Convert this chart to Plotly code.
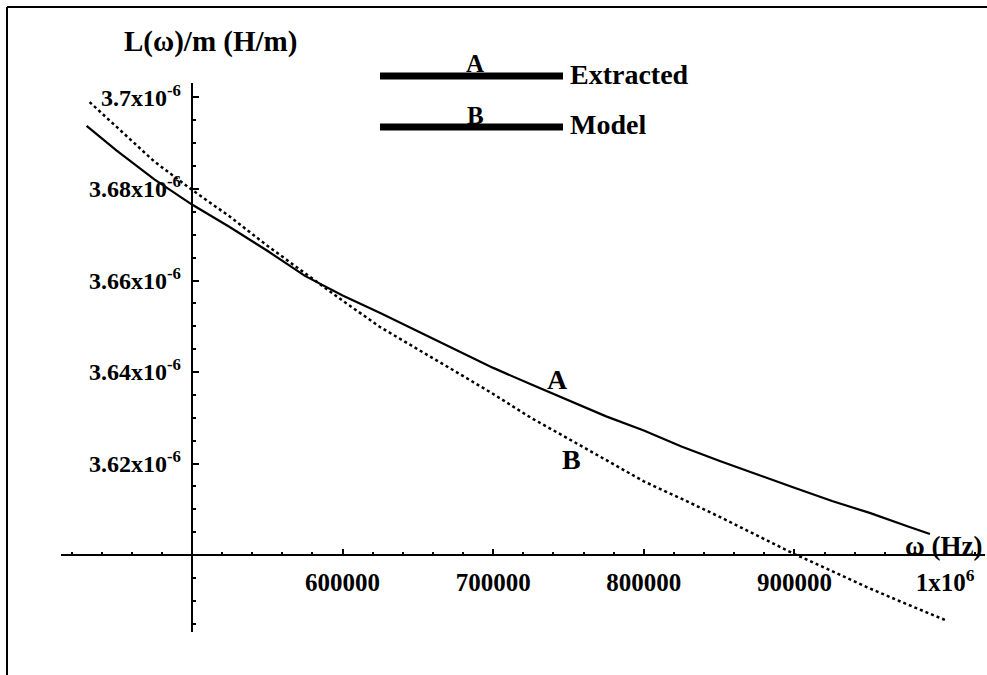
import plotly.graph_objects as go

# ---------------- data (L in units of 1e-6 H/m) ----------------
omega_a = [430000, 450000, 475000, 500000, 525000, 550000, 575000, 600000,
           625000, 650000, 675000, 700000, 725000, 750000, 775000, 800000,
           825000, 850000, 875000, 900000, 925000, 950000, 975000, 990000]
extracted = [3.6938, 3.6884, 3.6821, 3.6766, 3.6717, 3.6665, 3.6610, 3.6567,
             3.6529, 3.6489, 3.6450, 3.6409, 3.6373, 3.6338, 3.6303, 3.6272,
             3.6237, 3.6206, 3.6176, 3.6147, 3.6118, 3.6092, 3.6063, 3.6046]

omega_b = [432000, 450000, 475000, 500000, 525000, 550000, 575000, 600000,
           625000, 650000, 675000, 700000, 725000, 750000, 775000, 800000,
           825000, 850000, 875000, 900000, 925000, 950000, 975000, 1000000]
model = [3.6990, 3.6935, 3.6860, 3.6798, 3.6740, 3.6676, 3.6615, 3.6556,
         3.6498, 3.6450, 3.6401, 3.6352, 3.6300, 3.6254, 3.6208, 3.6161,
         3.6123, 3.6084, 3.6043, 3.6002, 3.5965, 3.5927, 3.5892, 3.5858]

x_tickvals = [500000, 600000, 700000, 800000, 900000, 1000000]
x_ticktext = ["", "600000", "700000", "800000", "900000", "1x10<sup>6</sup>"]
y_tickvals = [3.62, 3.64, 3.66, 3.68, 3.70]
y_ticktext = ["3.62x10<sup>-6</sup>", "3.64x10<sup>-6</sup>", "3.66x10<sup>-6</sup>",
              "3.68x10<sup>-6</sup>", "3.7x10<sup>-6</sup>"]
x_minor = [v for v in range(420000, 1020001, 20000) if v % 100000 != 0]
y_minor = [round(3.585 + 0.005 * i, 3) for i in range(24)
           if round((3.585 + 0.005 * i) * 1000) % 20 != 0]

series_letters = ["A", "B"]
series_names = ["Extracted", "Model"]

# axis crossing / extents
X_CROSS, Y_CROSS = 500000, 3.60
X_AXIS_EXT = [413000, 1026600]
Y_AXIS_EXT = [3.58317, 3.70317]

W, H = 987, 675
X_RANGE = [372510, 1027888]
Y_RANGE = [3.57377, 3.72131]

SERIF = "Liberation Serif, Times New Roman, serif"

fig = go.Figure()
fig.add_trace(go.Scatter(x=omega_a, y=extracted, mode="lines", name=series_names[0],
                         line=dict(color="black", width=2.2), showlegend=False))
fig.add_trace(go.Scatter(x=omega_b, y=model, mode="lines", name=series_names[1],
                         line=dict(color="black", width=2.5, dash="dot"), showlegend=False))


def px_x(px):
    return px / W


def px_y(py):
    return 1 - py / H


fig.update_layout(
    width=W, height=H,
    margin=dict(l=0, r=0, t=0, b=0),
    paper_bgcolor="white", plot_bgcolor="white",
    xaxis=dict(range=X_RANGE, anchor="free", position=px_y(555),
               showgrid=False, zeroline=False, showline=False,
               tickmode="array", tickvals=x_tickvals, ticktext=x_ticktext,
               ticks="inside", ticklen=6, tickwidth=2, tickcolor="black",
               ticklabelstandoff=10,
               minor=dict(tickmode="array", tickvals=x_minor, ticks="inside",
                          ticklen=3, tickwidth=2, tickcolor="black"),
               tickfont=dict(family=SERIF, size=25, color="black", weight="bold")),
    yaxis=dict(range=Y_RANGE, anchor="free", position=px_x(192),
               showgrid=False, zeroline=False, showline=False,
               tickmode="array", tickvals=y_tickvals, ticktext=y_ticktext,
               ticks="inside", ticklen=6, tickwidth=2, tickcolor="black",
               ticklabelstandoff=11,
               minor=dict(tickmode="array", tickvals=y_minor, ticks="inside",
                          ticklen=3, tickwidth=2, tickcolor="black"),
               tickfont=dict(family=SERIF, size=24, color="black", weight="bold")),
    showlegend=False,
)

shapes = [
    # axes lines
    dict(type="line", xref="x", yref="y", x0=X_AXIS_EXT[0], x1=X_AXIS_EXT[1],
         y0=Y_CROSS, y1=Y_CROSS, line=dict(color="black", width=2)),
    dict(type="line", xref="x", yref="y", x0=X_CROSS, x1=X_CROSS,
         y0=Y_AXIS_EXT[0], y1=Y_AXIS_EXT[1], line=dict(color="black", width=2)),
    # frame (left and top)
    dict(type="line", xref="paper", yref="paper", x0=px_x(7), x1=px_x(7),
         y0=px_y(7), y1=0, line=dict(color="black", width=2)),
    dict(type="line", xref="paper", yref="paper", x0=px_x(7), x1=1,
         y0=px_y(7), y1=px_y(7), line=dict(color="black", width=2)),
]
# legend bars
for i, yy in enumerate([76, 127]):
    shapes.append(dict(type="line", xref="paper", yref="paper",
                       x0=px_x(380), x1=px_x(563), y0=px_y(yy), y1=px_y(yy),
                       line=dict(color="black", width=7)))
fig.update_layout(shapes=shapes)

ann = []
# axis titles
ann.append(dict(xref="paper", yref="paper", x=px_x(210), y=px_y(42),
                text="L(ω)/m (H/m)", showarrow=False, xanchor="center", yanchor="middle",
                font=dict(family=SERIF, size=29, color="black", weight="bold")))
ann.append(dict(xref="paper", yref="paper", x=px_x(984), y=px_y(546),
                text="ω (Hz)", showarrow=False, xanchor="right", yanchor="middle",
                font=dict(family=SERIF, size=27, color="black", weight="bold")))
# legend letters and names
for i, (yy, ty) in enumerate([(63, 74), (115, 125)]):
    ann.append(dict(xref="paper", yref="paper", x=px_x(475), y=px_y(yy),
                    text=series_letters[i], showarrow=False, xanchor="center", yanchor="middle",
                    font=dict(family=SERIF, size=25, color="black", weight="bold")))
    ann.append(dict(xref="paper", yref="paper", x=px_x(568), y=px_y(ty),
                    text=series_names[i], showarrow=False, xanchor="left", yanchor="middle",
                    font=dict(family=SERIF, size=28, color="black", weight="bold")))
# curve labels
ann.append(dict(xref="x", yref="y", x=743000, y=3.6383, text=series_letters[0],
                showarrow=False, font=dict(family=SERIF, size=28, color="black", weight="bold")))
ann.append(dict(xref="x", yref="y", x=752300, y=3.6208, text=series_letters[1],
                showarrow=False, font=dict(family=SERIF, size=28, color="black", weight="bold")))
fig.update_layout(annotations=ann)

fig.write_html("out.html", config={"displayModeBar": False},
               post_script="document.body.style.margin='0';document.body.style.overflow='hidden';")
